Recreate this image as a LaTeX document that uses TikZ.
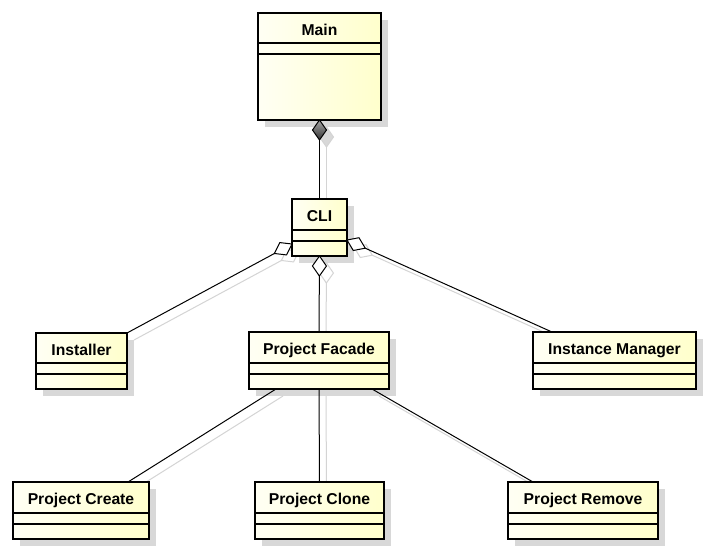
\documentclass[tikz,border=0pt]{standalone}
\usepackage{fontspec}
\setmainfont{Liberation Sans}
\usetikzlibrary{calc}
\pgfdeclarelayer{bg}
\pgfsetlayers{bg,main}
\definecolor{fillA}{RGB}{255,255,244}
\definecolor{fillB}{RGB}{255,255,204}
\definecolor{shd}{RGB}{216,216,216}
\definecolor{lshd}{RGB}{212,212,212}
\tikzset{
  x=1pt, y=-1pt,
  cls/.style={draw=black, line width=2.6pt, left color=fillA, right color=fillB,
    rectangle, inner sep=0pt, outer sep=0pt, anchor=north west},
  ttl/.style={font=\fontsize{15.7}{18}\selectfont\bfseries, inner sep=0pt, anchor=base},
  comp/.style={line width=1.1pt},
  conn/.style={line width=1pt, draw=black},
  shline/.style={line width=1pt, draw=lshd},
  hollow/.style={draw=black, line width=1pt, fill=white, line join=miter},
  filled/.style={draw=black, line width=1pt, top color=black!35, bottom color=black!80, line join=miter},
  shdiam/.style={draw=lshd, line width=1pt, fill=white},
  shfilled/.style={fill=shd, draw=lshd, line width=1pt},
}
\newcommand\umlbox[7]{%
  \begin{pgfonlayer}{bg}\fill[shd] (#2+7,#3+7) rectangle ++(#4,#5);\end{pgfonlayer}
  \node[cls, minimum width=#4pt, minimum height=#5pt] (#1) at (#2,#3) {};
  \draw[comp] ($(#1.north west)+(0,#6)$) -- ($(#1.north east)+(0,#6)$);
  \draw[comp] ($(#1.north west)+(0,#6+11)$) -- ($(#1.north east)+(0,#6+11)$);
  \node[ttl] (#1t) at ($(#1.north)+(0,22.5)$) {#7};
}
\newcommand\umldiam[3][hollow]{%
  \coordinate (dM) at ($(#2)!10pt!(#3)$);
  \coordinate (dT) at ($(#2)!20pt!(#3)$);
  \draw[#1] (#2) -- ($(dM)!7pt!90:(#3)$) -- (dT) -- ($(dM)!7pt!-90:(#3)$) -- cycle;
}
\begin{document}
\begin{tikzpicture}
\useasboundingbox (0,0) rectangle (709,552);
\begin{pgfonlayer}{bg}\fill[white] (0,0) rectangle (709,552);\end{pgfonlayer}

\umlbox{main}{258}{13}{123}{107}{30}{Main}
\umlbox{cli}{292}{199}{55}{57}{31}{CLI}
\umlbox{inst}{36}{333}{91}{56}{30}{Installer}
\umlbox{pf}{249}{332}{140}{57}{31}{Project Facade}
\umlbox{im}{533}{332}{163}{57}{31}{Instance Manager}
\umlbox{pc}{13}{482}{136}{57}{31}{Project Create}
\umlbox{pcl}{255}{482}{129}{57}{31}{Project Clone}
\umlbox{pr}{508}{482}{150}{57}{31}{Project Remove}

% connector end points
\coordinate (a1) at (main.south);
\coordinate (a2) at (cli.north);
\coordinate (b1) at ($(cli.south west)+(0,-12)$);
\coordinate (b2) at (inst.north east);
\coordinate (c1) at (cli.south);
\coordinate (c2) at (pf.north);
\coordinate (d1) at ($(cli.south east)+(0,-16)$);
\coordinate (d2) at ($(im.north west)+(19,0)$);
\coordinate (e1) at ($(pf.south west)+(27,0)$);
\coordinate (e2) at ($(pc.north east)+(-21,0)$);
\coordinate (f1) at (pf.south);
\coordinate (f2) at (pcl.north);
\coordinate (g1) at ($(pf.south east)+(-17,0)$);
\coordinate (g2) at ($(pr.north west)+(25,0)$);
\foreach \c in {a1,a2,b1,b2,c1,c2,d1,d2,e1,e2,f1,f2,g1,g2}
  \coordinate (\c s) at ($(\c)+(7,7)$);

% shadows of connectors
\begin{pgfonlayer}{bg}
  \foreach \p in {a,b,c,d,e,f,g} \draw[shline] (\p1s) -- (\p2s);
  \umldiam[shfilled]{a1s}{a2s}
  \umldiam[shdiam]{b1s}{b2s}
  \umldiam[shdiam]{c1s}{c2s}
  \umldiam[shdiam]{d1s}{d2s}
\end{pgfonlayer}

% connectors
\draw[conn] (a1) -- (a2);
\draw[conn] (b1) -- (b2);
\draw[conn] (c1) -- (c2);
\draw[conn] (d1) -- (d2);
\draw[conn] (e1) -- (e2);
\draw[conn] (f1) -- (f2);
\draw[conn] (g1) -- (g2);

% aggregation / composition diamonds
\umldiam[filled]{a1}{a2}
\umldiam{b1}{b2}
\umldiam{c1}{c2}
\umldiam{d1}{d2}
\end{tikzpicture}
\end{document}
